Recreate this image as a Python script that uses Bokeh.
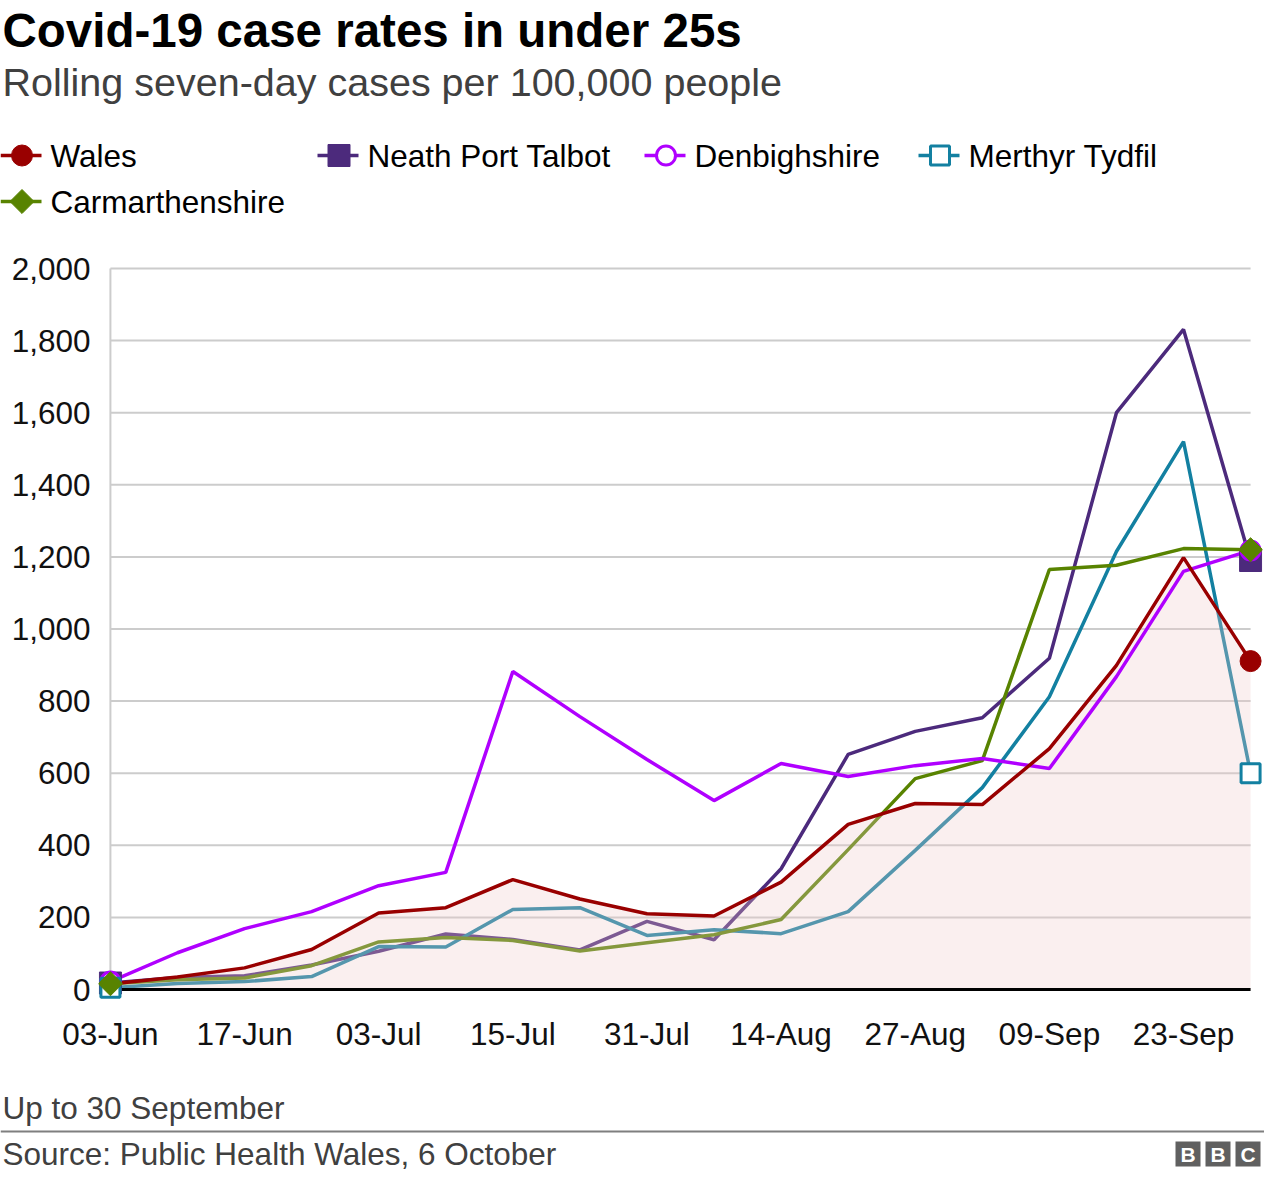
import math
from bokeh.plotting import figure
from bokeh.layouts import column
from bokeh.models import (ColumnDataSource, Label, FixedTicker,
                          NumeralTickFormatter, BoxAnnotation, Range1d)
from bokeh.embed import file_html
from bokeh.resources import INLINE

# ---------------- data ----------------
tick_labels = ["03-Jun", "17-Jun", "03-Jul", "15-Jul", "31-Jul",
               "14-Aug", "27-Aug", "09-Sep", "23-Sep"]
wales = [15, 35, 60, 111, 212, 227, 305, 251, 210, 204, 298, 458, 516, 513, 668, 899, 1198, 911]
neath = [18, 33, 38, 68, 106, 154, 139, 110, 189, 138, 335, 652, 716, 754, 919, 1600, 1831, 1190]
denbigh = [22, 102, 169, 216, 288, 325, 882, 757, 638, 524, 627, 591, 621, 641, 613, 868, 1160, 1218]
merthyr = [5, 17, 22, 36, 119, 118, 222, 227, 150, 166, 155, 216, 386, 560, 812, 1215, 1520, 600]
carmarthen = [16, 27, 32, 66, 132, 144, 136, 107, 130, 152, 194, 388, 585, 635, 1165, 1177, 1223, 1220]
y_ticks = [0, 200, 400, 600, 800, 1000, 1200, 1400, 1600, 1800, 2000]
series_names = ["Wales", "Neath Port Talbot", "Denbighshire", "Merthyr Tydfil", "Carmarthenshire"]

idx = list(range(len(wales)))
last = idx[-1]

C_WALES = "#990000"
C_NPT = "#4c2a7c"
C_DEN = "#b000ff"
C_MER = "#1380a1"
C_CAR = "#588300"
FONT = "Liberation Sans"
LW = 3.5

W = 1264
HEAD_H = 228
MAIN_H = 852
FOOT_TOP = HEAD_H + MAIN_H
TOTAL_H = 1172
FOOT_H = TOTAL_H - FOOT_TOP

styles = {
    "Wales": dict(marker="circle", size=21, fill_color=C_WALES, line_color=C_WALES, line_width=1),
    "Neath Port Talbot": dict(marker="square", size=22, fill_color=C_NPT, line_color=C_NPT, line_width=1),
    "Denbighshire": dict(marker="circle", size=19, fill_color="white", line_color=C_DEN, line_width=3),
    "Merthyr Tydfil": dict(marker="square", size=19, fill_color="white", line_color=C_MER, line_width=3),
    "Carmarthenshire": dict(marker="square", angle=math.pi / 4, size=17, fill_color=C_CAR,
                            line_color=C_CAR, line_width=1),
}
line_colors = {"Wales": C_WALES, "Neath Port Talbot": C_NPT, "Denbighshire": C_DEN,
               "Merthyr Tydfil": C_MER, "Carmarthenshire": C_CAR}


def no_align(f):
    try:
        f.frame_align = False
    except Exception:
        pass


def blank_fig(h, y_top):
    f = figure(width=W, height=h, output_backend="svg", toolbar_location=None,
               title_location=None, x_axis_type=None, y_axis_type=None,
               x_range=Range1d(0, W), y_range=Range1d(y_top + h, y_top),
               min_border_left=0, min_border_right=0, min_border_top=0, min_border_bottom=0)
    f.outline_line_color = None
    f.xgrid.visible = False
    f.ygrid.visible = False
    no_align(f)
    return f


def text(f, t, x, y, size, color, bold=False, align="left"):
    f.add_layout(Label(x=x, y=y, text=t, text_font=FONT, text_font_size=size,
                       text_color=color, text_font_style="bold" if bold else "normal",
                       text_align=align, text_baseline="middle"))


# ---------------- header ----------------
head = blank_fig(HEAD_H, 0)
text(head, "Covid-19 case rates in under 25s", 2, 30, "47.5px", "#000000", bold=True)
text(head, "Rolling seven-day cases per 100,000 people", 2, 81, "39.5px", "#404040")

KEY_W = 41
leg_pos = {"Wales": (0, 155), "Neath Port Talbot": (317, 155), "Denbighshire": (644, 155),
           "Merthyr Tydfil": (918, 155), "Carmarthenshire": (0, 201)}
for name in series_names:
    fx, fyc = leg_pos[name]
    head.segment(x0=[fx], y0=[fyc], x1=[fx + KEY_W], y1=[fyc],
                 line_color=line_colors[name], line_width=LW)
    head.scatter(x=[fx + KEY_W / 2 + 1], y=[fyc], **styles[name])
    text(head, name, fx + 50, fyc, "31.5px", "#000000")

# ---------------- main plot ----------------
FL = 98
p = figure(width=W, height=MAIN_H, output_backend="svg", toolbar_location=None,
           title_location=None,
           x_range=Range1d(-0.1777, last + 0.1777), y_range=Range1d(-38.8, 2011.1),
           min_border_left=FL, min_border_right=2, min_border_top=36,
           min_border_bottom=77)
p.outline_line_color = None
p.xgrid.visible = False
p.ygrid.visible = False
no_align(p)

for ax in (p.xaxis, p.yaxis):
    ax.axis_line_color = None
    ax.major_tick_line_color = None
    ax.minor_tick_line_color = None
    ax.major_tick_out = 0
    ax.major_tick_in = 0
    ax.major_label_text_font = FONT
    ax.major_label_text_font_size = "31.5px"
    ax.major_label_text_color = "#111111"

xt = list(range(0, 2 * len(tick_labels), 2))
p.xaxis.ticker = FixedTicker(ticks=xt)
p.xaxis.major_label_overrides = {t: lab for t, lab in zip(xt, tick_labels)}
p.xaxis.major_label_standoff = 12
p.yaxis.ticker = FixedTicker(ticks=y_ticks)
p.yaxis.formatter = NumeralTickFormatter(format="0,0")
p.yaxis.major_label_standoff = 8

g = [t for t in y_ticks if t > 0]
p.segment(x0=[0] * len(g), y0=g, x1=[last] * len(g), y1=g, line_color="#cccccc", line_width=2)
p.segment(x0=[0], y0=[0], x1=[0], y1=[y_ticks[-1]], line_color="#cccccc", line_width=2)


def line(vals, name):
    return p.line(idx, vals, line_color=line_colors[name], line_width=LW)


line(neath, "Neath Port Talbot")
line(merthyr, "Merthyr Tydfil")
line(carmarthen, "Carmarthenshire")
p.varea(x=idx, y1=[0] * len(idx), y2=wales, fill_color="#f0caca", fill_alpha=0.3)
line(denbigh, "Denbighshire")
line(wales, "Wales")

p.segment(x0=[-0.15], y0=[0], x1=[last], y1=[0], line_color="black", line_width=3)

vals_by = {"Wales": wales, "Neath Port Talbot": neath, "Denbighshire": denbigh,
           "Merthyr Tydfil": merthyr, "Carmarthenshire": carmarthen}
for name in series_names:
    v = vals_by[name]
    src = ColumnDataSource(dict(x=[0, last], y=[v[0], v[-1]]))
    p.scatter("x", "y", source=src, **styles[name])

# ---------------- footer ----------------
foot = blank_fig(FOOT_H, FOOT_TOP)
text(foot, "Up to 30 September", 2, 1107, "31.5px", "#404040")
foot.add_layout(BoxAnnotation(left=0, right=W, top=1130, bottom=1132,
                              fill_color="#7f7f7f", fill_alpha=1, line_color=None))
text(foot, "Source: Public Health Wales, 6 October", 2, 1153, "31.5px", "#404040")
for i, ch in enumerate("BBC"):
    x0 = 1175 + i * 30
    foot.add_layout(BoxAnnotation(left=x0, right=x0 + 25, top=1141, bottom=1166,
                                  fill_color="#606060", fill_alpha=1, line_color=None))
    text(foot, ch, x0 + 12.5, 1154, "21px", "#ffffff", bold=True, align="center")

layout = column(head, p, foot, spacing=0)
open("out.html", "w").write(file_html(layout, INLINE))
